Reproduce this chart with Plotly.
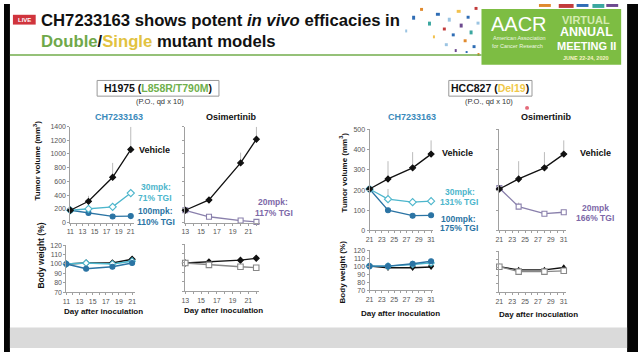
import plotly.graph_objects as go

# ---------------- data ----------------
h_ch_days = [11, 14, 18, 21]
h_ch_veh = [180, 310, 660, 1065]
h_ch_veh_err = [0, 80, 210, 330]
h_ch_30 = [180, 200, 230, 430]
h_ch_30_err = [0, 15, 20, 30]
h_ch_100 = [180, 140, 90, 95]
h_ch_100_err = [0, 10, 10, 10]

h_os_days = [13, 16, 20, 22]
h_os_veh = [180, 330, 870, 1215]
h_os_veh_err = [0, 40, 150, 180]
h_os_20 = [180, 85, 30, 10]
h_os_20_err = [0, 10, 10, 5]

c_days = [21, 24, 28, 31]
c_veh = [205, 255, 310, 378]
c_veh_err = [0, 88, 78, 68]
c_30 = [205, 155, 140, 145]
c_30_err = [0, 50, 15, 15]
c_100 = [205, 100, 73, 75]
c_100_err = [15, 10, 8, 8]
c_os_20 = [210, 118, 83, 90]
c_os_20_err = [0, 20, 8, 8]

h_ch_bw_veh = [100, 101, 101, 105]
h_ch_bw_30 = [100, 101, 100, 103]
h_ch_bw_100 = [100, 95, 97, 101]
h_os_bw_veh = [100, 101, 103, 105]
h_os_bw_20 = [100, 98, 96, 95]
c_ch_bw_veh = [100, 98, 98, 99]
c_ch_bw_30 = [100, 100, 102, 104]
c_ch_bw_100 = [100, 100, 103, 106]
c_os_bw_veh = [101, 97, 97, 100]
c_os_bw_20 = [101, 95, 95, 96]

h_ch_ticks = [11, 13, 15, 17, 19, 21]
h_os_ticks = [13, 15, 17, 19, 21]
c_ticks = [21, 23, 25, 27, 29, 31]

# ---------------- helpers ----------------
W, H = 640, 355
FONT = "Liberation Sans, Arial, sans-serif"
BLACK = "#111111"
TEAL = "#4db6cc"
BLUE = "#2b74a4"
PURPLE = "#7d68a8"
GRAY_ERR = "#bbbbbb"


def px(x):
    return x / W


def py(y):
    return 1 - y / H


fig = go.Figure()


def add_series(xa, ya, x, y, err, color, symbol, fill, size=5, width=1.3, errcolor=GRAY_ERR):
    fig.add_trace(go.Scatter(
        x=x, y=y, xaxis=xa, yaxis=ya, mode="lines+markers",
        line=dict(color=color, width=width),
        marker=dict(symbol=symbol, size=size,
                    color=(color if fill else "white"),
                    line=dict(color=color, width=1.1)),
        error_y=(dict(type="data", symmetric=False, array=err,
                      arrayminus=[0] * len(err), color=errcolor,
                      thickness=1, width=0) if err is not None else None),
        cliponaxis=False, showlegend=False, hoverinfo="skip"))


# Tumor panels
add_series("x", "y", h_ch_days, h_ch_100, h_ch_100_err, BLUE, "circle", True)
add_series("x", "y", h_ch_days, h_ch_30, h_ch_30_err, TEAL, "diamond", False, size=5.5)
add_series("x", "y", h_ch_days, h_ch_veh, h_ch_veh_err, BLACK, "diamond", True, size=4.5)

add_series("x2", "y2", h_os_days, h_os_20, h_os_20_err, "#8a80ac", "square", False)
add_series("x2", "y2", h_os_days, h_os_veh, h_os_veh_err, BLACK, "diamond", True, size=4.5)

add_series("x3", "y3", c_days, c_100, c_100_err, BLUE, "circle", True)
add_series("x3", "y3", c_days, c_30, c_30_err, TEAL, "diamond", False, size=5.5)
add_series("x3", "y3", c_days, c_veh, c_veh_err, BLACK, "diamond", True, size=4.5)

add_series("x4", "y4", c_days, c_os_20, c_os_20_err, "#8a80ac", "square", False)
add_series("x4", "y4", c_days, c_veh, c_veh_err, BLACK, "diamond", True, size=4.5)

# Body weight panels
add_series("x5", "y5", h_ch_days, h_ch_bw_veh, [0, 2, 2, 2], BLACK, "diamond", True, size=4.5, width=1.6)
add_series("x5", "y5", h_ch_days, h_ch_bw_30, [0, 3, 2, 2], TEAL, "diamond", False, size=5, width=1.6)
add_series("x5", "y5", h_ch_days, h_ch_bw_100, [0, 3, 2, 2], BLUE, "circle", True, size=5, width=1.6)

add_series("x6", "y6", h_os_days, h_os_bw_veh, [0, 1, 1, 1], BLACK, "diamond", True, size=4.5)
add_series("x6", "y6", h_os_days, h_os_bw_20, [0, 1, 1, 1], "#888888", "square", False, size=5.5)

add_series("x7", "y7", c_days, c_ch_bw_veh, [0, 1, 1, 1], BLACK, "triangle-down", True, size=4.5, width=1.4)
add_series("x7", "y7", c_days, c_ch_bw_30, [0, 3, 3, 2], TEAL, "diamond", False, size=5, width=1.4)
add_series("x7", "y7", c_days, c_ch_bw_100, [0, 2, 2, 3], BLUE, "circle", True, size=5, width=1.4)

add_series("x8", "y8", c_days, c_os_bw_veh, [0, 2, 3, 3], BLACK, "triangle-up", True, size=4.5)
add_series("x8", "y8", c_days, c_os_bw_20, [0, 1, 1, 1], "#888888", "square", False, size=5.5)

# ---------------- axes ----------------
AX = dict(showline=True, linecolor="#a0a0a0", linewidth=1, ticks="outside",
          ticklen=2, tickcolor="#a0a0a0", showgrid=False, zeroline=False,
          tickfont=dict(family=FONT, size=7, color="#555555"), fixedrange=True)

panels = [
    (1, (67, 131), [11, 21.5], h_ch_ticks, (125, 223), [0, 1400], list(range(0, 1401, 200)), True),
    (2, (183, 258), [13, 22.4], h_os_ticks, (125, 223), [0, 1400], list(range(0, 1401, 200)), False),
    (3, (369, 433), [21, 31.3], c_ticks, (128, 231), [0, 500], list(range(0, 501, 100)), True),
    (4, (500, 567), [21, 31.3], c_ticks, (128, 231), [0, 500], list(range(0, 501, 100)), False),
    (5, (63, 132), [11, 21.4], h_ch_ticks, (246, 294), [70, 120], list(range(70, 121, 10)), True),
    (6, (183, 257), [13, 22.3], h_os_ticks, (245, 293), [70, 120], list(range(70, 121, 10)), False),
    (7, (369, 433), [21, 31.3], c_ticks, (251, 292), [70, 120], list(range(70, 121, 10)), True),
    (8, (500, 567), [21, 31.3], c_ticks, (252, 294), [70, 120], list(range(70, 121, 10)), False),
]

layout = {}
for idx, xd, xr, xt, yd, yr, yt, ylab in panels:
    xn = "xaxis" if idx == 1 else f"xaxis{idx}"
    yn = "yaxis" if idx == 1 else f"yaxis{idx}"
    xid = "x" if idx == 1 else f"x{idx}"
    yid = "y" if idx == 1 else f"y{idx}"
    layout[xn] = dict(AX, domain=[px(xd[0]), px(xd[1])], range=xr, anchor=yid,
                      tickmode="array", tickvals=xt,
                      minor=dict(ticks="outside", ticklen=2, tickcolor="#a0a0a0",
                                 tickvals=list(range(int(xr[0]), int(xr[1]) + 1))))
    layout[yn] = dict(AX, domain=[py(yd[1]), py(yd[0])], range=yr, anchor=xid,
                      tickmode="array", tickvals=yt, showticklabels=ylab)

# ---------------- annotations ----------------
anns = []


def ann(text, x, y, size, color="#111111", bold=True, xanchor="center", angle=0, family=FONT):
    anns.append(dict(text=(f"<b>{text}</b>" if bold else text), x=px(x), y=py(y),
                     xref="paper", yref="paper", showarrow=False, xanchor=xanchor,
                     yanchor="middle", textangle=angle,
                     font=dict(family=family, size=size, color=color)))


# Title
ann("CH7233163 shows potent <i>in vivo</i> efficacies in", 35, 17, 16.7, xanchor="left")
ann("<span style='color:#6fa84a'>Double</span>/<span style='color:#e2c240'>Single</span> mutant models",
    35, 38, 16.7, xanchor="left")
ann("LIVE", 20.5, 16, 6, color="white")

# AACR logo texts
ann("AACR", 520, 20, 20, color="white", bold=False)
ann("American Association", 520, 35, 5.5, color="#eef6e2", bold=False)
ann("for Cancer Research", 518, 43, 5.5, color="#eef6e2", bold=False)
ann("VIRTUAL", 588, 16, 11, color="#d4ebb0")
ann("ANNUAL", 588, 29, 12.5, color="white")
ann("MEETING II", 588, 43, 11, color="white")
ann("JUNE 22-24, 2020", 588, 55, 5.5, color="#f7f2c8")

# Model boxes
ann("H1975 (<span style='color:#6fb04c'>L858R/T790M</span>)", 155.5, 86, 10.5)
ann("HCC827 (<span style='color:#f0c84a'>Del19</span>)", 491, 86, 10.5)
ann("(P.O., qd x 10)", 157, 99, 7.5, color="#333333", bold=False)
ann("(P.O., qd x 10)", 490, 99, 7.5, color="#333333", bold=False)

# Panel titles
ann("CH7233163", 116, 115, 9, color="#3a8abb")
ann("Osimertinib", 230, 115, 9)
ann("CH7233163", 412, 115, 9, color="#3a8abb")
ann("Osimertinib", 548, 115, 9)

# Axis titles
ann("Tumor volume (mm<sup>3</sup>)", 33, 160, 8, angle=-90)
ann("Body weight (%)", 37, 257, 8.5, angle=-90)
ann("Tumor volume (mm<sup>3</sup>)", 342, 172, 8, angle=-90)
ann("Body weight (%)", 342, 273, 8, angle=-90)
ann("Day after inoculation", 100, 314, 8)
ann("Day after inoculation", 222, 313, 8)
ann("Day after inoculation", 400, 316, 8)
ann("Day after inoculation", 540, 317, 8)

# Series labels
ann("Vehicle", 152, 149, 9)
ann("30mpk:", 153, 187, 8.5, color=TEAL)
ann("71% TGI", 152, 198, 8.5, color=TEAL)
ann("100mpk:", 153, 211, 8.5, color=BLUE)
ann("110% TGI", 153, 222, 8.5, color=BLUE)
ann("20mpk:", 272, 202, 8.5, color=PURPLE)
ann("117% TGI", 273, 213, 8.5, color=PURPLE)

ann("Vehicle", 458, 152, 9)
ann("30mpk:", 460, 192, 8.5, color=TEAL)
ann("131% TGI", 459, 202, 8.5, color=TEAL)
ann("100mpk:", 459, 219, 8.5, color=BLUE)
ann("175% TGI", 459, 229, 8.5, color=BLUE)
ann("Vehicle", 597, 152, 9)
ann("20mpk", 597, 208, 8.5, color=PURPLE)
ann("166% TGI", 597, 218, 8.5, color=PURPLE)

# ---------------- decorative shapes ----------------
shapes = []


def rect(x0, y0, x1, y1, fill, line=None, layer="below", lw=0):
    shapes.append(dict(type="rect", xref="paper", yref="paper",
                       x0=px(x0), x1=px(x1), y0=py(y1), y1=py(y0),
                       fillcolor=fill, line=dict(color=line or fill, width=lw),
                       layer=layer))


rect(0, 0, 6, 355, "#050505")
rect(629, 0, 640, 355, "#050505")
rect(6, 330, 629, 351, "#dadada")
rect(9, 11, 32, 21, "#d0343d")
shapes.append(dict(type="line", xref="paper", yref="paper", x0=px(6), x1=px(482),
                   y0=py(52), y1=py(52), line=dict(color="#72ad4b", width=1.5)))
rect(482, 5, 623, 62, "#7dbd43")
rect(94, 78, 217, 94, "white", line="#999999", lw=1)
rect(449, 78, 533, 94, "white", line="#999999", lw=1)
shapes.append(dict(type="circle", xref="paper", yref="paper", x0=px(526), x1=px(530),
                   y0=py(108), y1=py(104), fillcolor="#e46a7a", line=dict(width=0)))

mosaic = [
    (412, 12, 415, 16, "#2f6db5"), (420, 4, 423, 7, "#e08a2e"), (428, 18, 431, 22, "#3ba7a0"),
    (436, 9, 440, 12, "#2f6db5"), (443, 24, 446, 27, "#c23b3b"), (448, 14, 451, 18, "#9bc4e2"),
    (452, 30, 455, 33, "#2f6db5"), (457, 6, 461, 9, "#f2c14e"), (460, 20, 463, 24, "#6d4a8f"),
    (464, 36, 467, 39, "#e08a2e"), (467, 12, 470, 15, "#2f6db5"), (470, 27, 473, 31, "#3ba7a0"),
    (473, 42, 476, 45, "#2f6db5"), (475, 3, 478, 6, "#c23b3b"), (477, 18, 480, 21, "#9bc4e2"),
    (478, 50, 480, 53, "#e08a2e"), (445, 40, 448, 43, "#9bc4e2"), (433, 32, 435, 35, "#f2c14e"),
    (455, 46, 457, 49, "#6d4a8f"), (466, 48, 468, 50, "#2f6db5"), (405, 26, 407, 29, "#9bc4e2"),
    (560, 0, 575, 4, "#c23b3b"), (578, 0, 590, 3, "#2f6db5"), (594, 0, 606, 4, "#3ba7a0"),
    (608, 0, 620, 3, "#6d4a8f"), (540, 0, 552, 3, "#e08a2e"),
]
for m in mosaic:
    rect(*m)

fig.update_layout(
    width=W, height=H, margin=dict(l=0, r=0, t=0, b=0),
    paper_bgcolor="white", plot_bgcolor="rgba(0,0,0,0)",
    showlegend=False, annotations=anns, shapes=shapes,
    font=dict(family=FONT), **layout)

fig.write_html("out.html", config={"displayModeBar": False},
               post_script="document.body.style.margin='0';document.body.style.overflow='hidden';")
